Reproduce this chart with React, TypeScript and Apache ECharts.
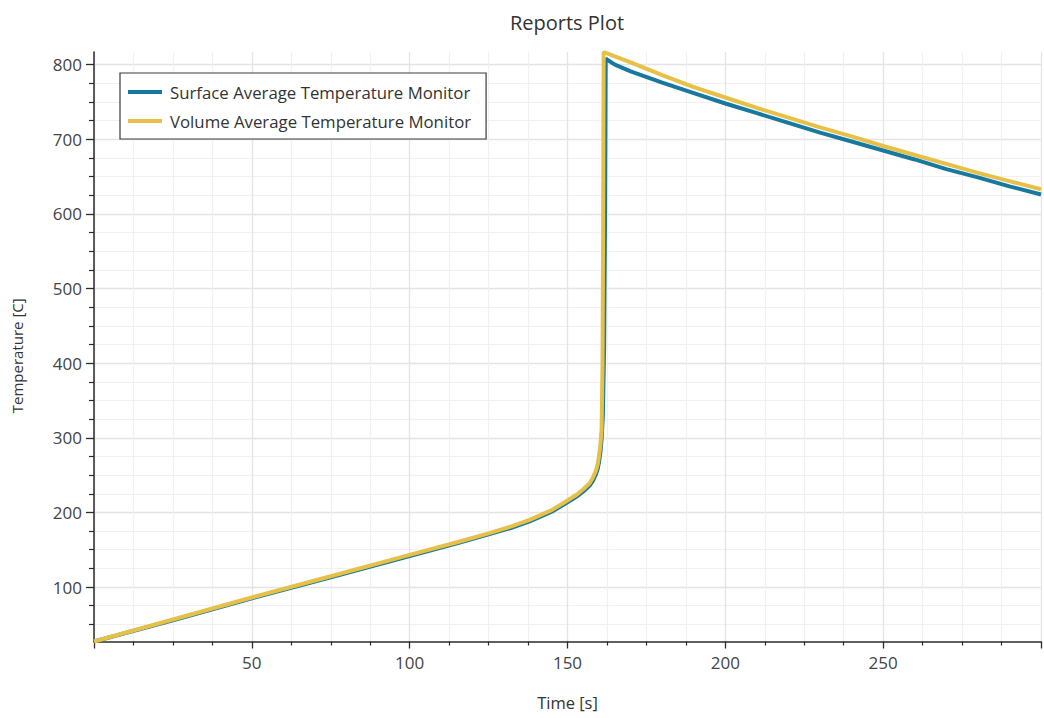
import React, { useEffect, useRef } from 'react';
import * as echarts from 'echarts';

const chartTitle = 'Reports Plot';
const xAxisName = 'Time [s]';
const yAxisName = 'Temperature [C]';
const seriesNames = ['Surface Average Temperature Monitor', 'Volume Average Temperature Monitor'];

const timeSurface = [0, 25, 50, 75, 100, 115, 125, 132, 138, 145, 150, 153, 155, 157, 158, 159, 159.6, 160, 160.4, 160.8, 161.2, 161.6, 161.9, 162.1, 165, 170, 180, 190, 200, 210, 220, 230, 240, 250, 260, 270, 280, 290, 300];
const tempSurface = [27, 55.5, 85, 113, 141.5, 158.5, 170.5, 179, 188, 201, 213.5, 221.5, 228, 236, 242, 251, 259, 268, 280, 298, 330, 420, 600, 808, 800, 791, 776, 762, 748, 735, 722, 709, 697, 685, 673, 660, 649, 637, 626];

const timeVolume = [0, 25, 50, 75, 100, 115, 125, 132, 138, 145, 150, 153, 155, 157, 158, 159, 159.6, 160, 160.4, 160.8, 161.1, 161.3, 161.45, 165, 170, 180, 190, 200, 210, 220, 230, 240, 250, 260, 270, 280, 290, 300];
const tempVolume = [27, 56.5, 86, 114.5, 143, 160, 172, 181, 190, 203, 216, 224, 231, 239, 246, 256, 265, 277, 290, 311, 400, 600, 817, 811, 803, 786, 770, 756, 742, 729, 716, 704, 691, 679, 667, 655, 644, 633];

const xMin = 0;
const xMax = 300;
const xInterval = 50;
const yMin = 27;
const yMax = 817;
const yMajorTicks = [100, 200, 300, 400, 500, 600, 700, 800];
const yMinorTicks = [50, 75, 125, 150, 175, 225, 250, 275, 325, 350, 375, 425, 450, 475, 525, 550, 575, 625, 650, 675, 725, 750, 775];

const colors = ['#17799f', '#e7c048'];
const FONT = '"Open Sans", "Noto Sans", sans-serif';

function zip(a: number[], b: number[]) {
  return a.map((v, i) => [v, b[i]]);
}

export default function App() {
  const ref = useRef<HTMLDivElement>(null);
  useEffect(() => {
    if (!ref.current) return;
    const chart = echarts.init(ref.current, null, { renderer: 'svg' });
    const axisLine = { show: true, lineStyle: { color: '#2b2b2b', width: 1.5 } };
    chart.setOption({
      animation: false,
      backgroundColor: '#ffffff',
      textStyle: { fontFamily: FONT },
      title: {
        text: chartTitle,
        left: 562,
        top: 7,
        textAlign: 'center',
        textStyle: { fontFamily: FONT, fontSize: 20, fontWeight: 'normal', color: '#333' },
      },
      legend: {
        left: 120,
        top: 73,
        orient: 'vertical',
        backgroundColor: '#ffffff',
        borderColor: '#3a3a3a',
        borderWidth: 1.2,
        borderRadius: 0,
        padding: [9, 15, 8, 8],
        itemGap: 9,
        itemWidth: 34,
        itemHeight: 4,
        icon: 'rect',
        textStyle: { fontFamily: FONT, fontSize: 16.8, color: '#333', lineHeight: 20, padding: [0, 0, 0, 3] },
        data: seriesNames,
      },
      grid: { left: 94, right: 0, top: 52, bottom: 76.5, containLabel: false },
      xAxis: {
        type: 'value',
        min: xMin,
        max: xMax,
        interval: xInterval,
        name: xAxisName,
        nameLocation: 'middle',
        nameGap: 52,
        nameTextStyle: { fontFamily: FONT, fontSize: 16.5, color: '#333' },
        axisLine,
        axisTick: { show: true, inside: false, length: 7, lineStyle: { color: '#2b2b2b', width: 1.3 } },
        minorTick: { show: true, splitNumber: 4, length: 4, lineStyle: { color: '#2b2b2b', width: 1.2 } },
        axisLabel: {
          fontFamily: FONT,
          fontSize: 17,
          color: '#444',
          margin: 12,
          formatter: (v: number) => (v === xMin || v === xMax ? '' : String(v)),
        },
        splitLine: { show: true, lineStyle: { color: '#e4e4e4', width: 1.3 } },
        minorSplitLine: { show: true, lineStyle: { color: '#f1f1f1', width: 1.2 } },
      },
      yAxis: [
        {
          type: 'value',
          min: yMin,
          max: yMax,
          position: 'left',
          name: yAxisName,
          nameLocation: 'middle',
          nameGap: 70,
          nameTextStyle: { fontFamily: FONT, fontSize: 15, color: '#333', padding: [0, 18, 0, 0] },
          axisLine,
          axisTick: { show: true, inside: false, length: 8, customValues: yMajorTicks, lineStyle: { color: '#2b2b2b', width: 1.3 } },
          axisLabel: { fontFamily: FONT, fontSize: 17, color: '#444', margin: 12, customValues: yMajorTicks },
          splitLine: { show: true, lineStyle: { color: '#e4e4e4', width: 1.3 } },
        },
        {
          type: 'value',
          min: yMin,
          max: yMax,
          position: 'left',
          offset: 0,
          axisLine: { show: false },
          axisTick: { show: true, inside: false, length: 5, customValues: yMinorTicks, lineStyle: { color: '#2b2b2b', width: 1.2 } },
          axisLabel: { show: false, customValues: yMinorTicks },
          splitLine: { show: true, lineStyle: { color: '#f1f1f1', width: 1.2 } },
        },
      ],
      series: [
        {
          name: seriesNames[0],
          type: 'line',
          yAxisIndex: 0,
          data: zip(timeSurface, tempSurface),
          showSymbol: false,
          smooth: false,
          lineStyle: { color: colors[0], width: 4 },
          itemStyle: { color: colors[0] },
          z: 3,
        },
        {
          name: seriesNames[1],
          type: 'line',
          yAxisIndex: 0,
          data: zip(timeVolume, tempVolume),
          showSymbol: false,
          smooth: false,
          lineStyle: { color: colors[1], width: 4 },
          itemStyle: { color: colors[1] },
          z: 4,
        },
      ],
    });
    return () => chart.dispose();
  }, []);
  return <div ref={ref} style={{ position: 'absolute', left: 0, top: 0, width: 1044, height: 718 }} />;
}
